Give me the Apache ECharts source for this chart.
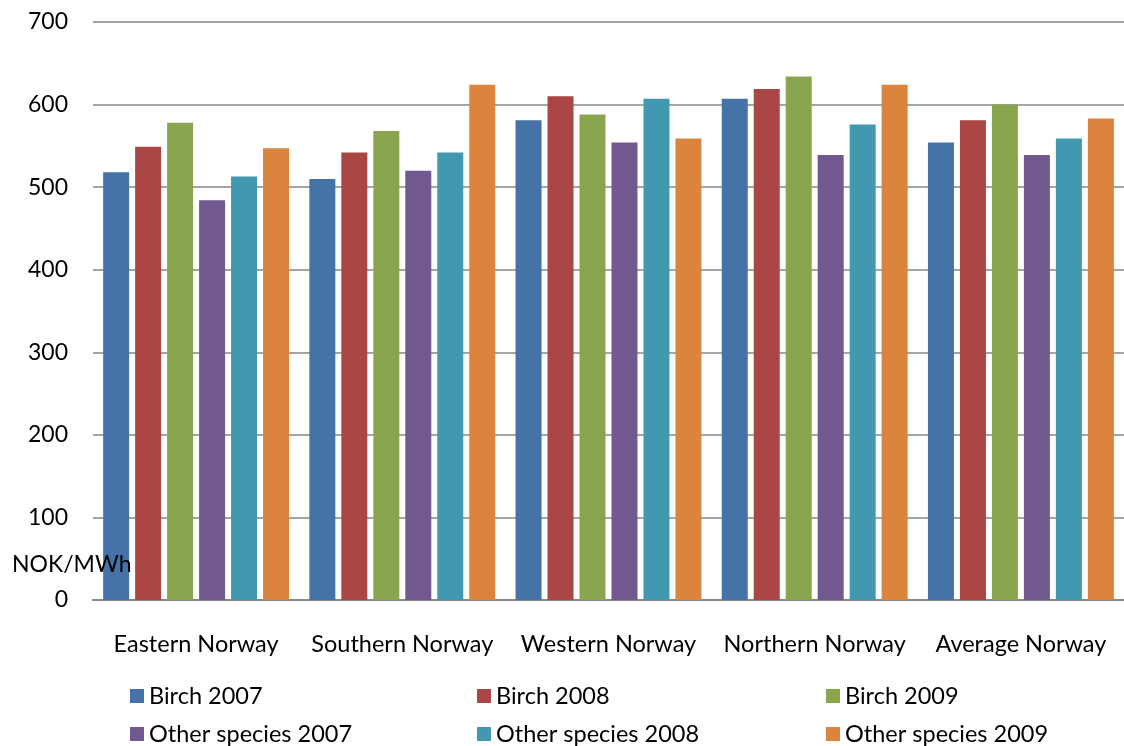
<!DOCTYPE html>
<html>
<head>
<meta charset="utf-8">
<title>Wood fuel price by region</title>
<script src="https://cdn.jsdelivr.net/npm/echarts@6/dist/echarts.min.js"></script>
<style>
  html, body { margin: 0; padding: 0; background: #ffffff; }
  #chart { width: 1124px; height: 746px; }
</style>
</head>
<body>
<div id="chart"></div>
<script>
// Regions on the category axis
const regions = ['Eastern Norway', 'Southern Norway', 'Western Norway', 'Northern Norway', 'Average Norway'];

// Price per series, NOK/MWh, one value per region
const birch2007 = [518, 510, 581, 607, 554];
const birch2008 = [549, 542, 610, 619, 581];
const birch2009 = [578, 568, 588, 634, 600];
const other2007 = [484, 520, 554, 539, 539];
const other2008 = [513, 542, 607, 576, 559];
const other2009 = [547, 624, 559, 624, 583];

const seriesNames = ['Birch 2007', 'Birch 2008', 'Birch 2009',
                     'Other species 2007', 'Other species 2008', 'Other species 2009'];
const seriesData = [birch2007, birch2008, birch2009, other2007, other2008, other2009];
const palette = ['#4572A7', '#AA4643', '#89A54E', '#71588F', '#4198AF', '#DB843D'];

const yTicks = { min: 0, max: 700, interval: 100 };
const FONT = 'Lato, "Open Sans", sans-serif';

const chart = echarts.init(document.getElementById('chart'), null, { renderer: 'canvas' });

// One legend entry per component: three columns, two rows
const legendCols = [125, 472, 821];
const legendRows = [679, 717];
function legendEntry(i) {
  return {
    left: legendCols[i % 3],
    top: legendRows[Math.floor(i / 3)],
    itemWidth: 14,
    itemHeight: 14,
    itemGap: 0,
    icon: 'rect',
    selectedMode: false,
    data: [seriesNames[i]],
    textStyle: { fontFamily: FONT, fontSize: 23.5, color: '#000' }
  };
}

const option = {
  animation: false,
  color: palette,
  textStyle: { fontFamily: FONT },
  grid: { left: 93, top: 22, width: 1034, height: 578, containLabel: false },
  legend: seriesNames.map((n, i) => legendEntry(i)),
  xAxis: {
    type: 'category',
    data: regions,
    axisTick: { show: false },
    axisLine: { lineStyle: { color: '#868686', width: 2 } },
    axisLabel: { color: '#000', fontSize: 23.5, fontFamily: FONT, margin: 32, interval: 0 }
  },
  yAxis: {
    type: 'value',
    min: yTicks.min,
    max: yTicks.max,
    interval: yTicks.interval,
    axisLine: { show: false },
    axisTick: { show: false },
    axisLabel: { color: '#000', fontSize: 23, fontFamily: FONT, margin: 25 },
    splitLine: { lineStyle: { color: '#868686', width: 1.5 } }
  },
  graphic: [{
    type: 'text',
    left: 12,
    top: 553,
    z: 100,
    style: { text: 'NOK/MWh', fontSize: 23, fontFamily: FONT, fill: '#000' }
  }],
  series: seriesNames.map((name, i) => ({
    name: name,
    type: 'bar',
    data: seriesData[i],
    barWidth: 26,
    barGap: '23%',
    itemStyle: { color: palette[i] }
  }))
};

chart.setOption(option);
</script>
</body>
</html>
